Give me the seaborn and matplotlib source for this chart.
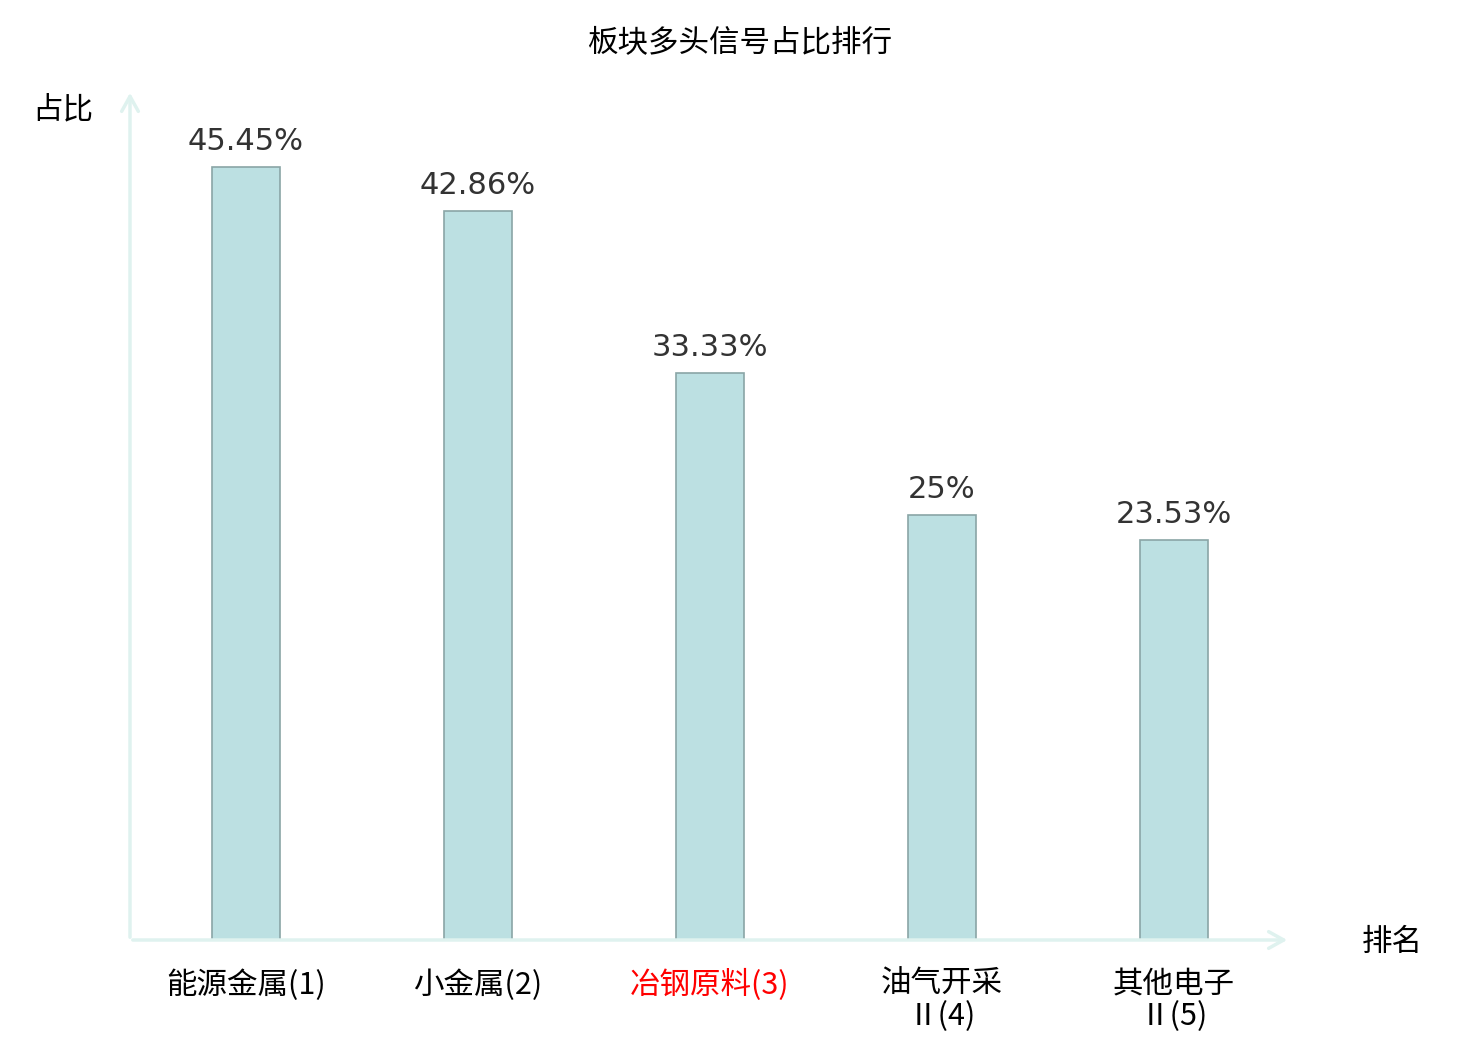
import pandas as pd
import matplotlib.pyplot as plt
import seaborn as sns

# data
categories = ['能源金属(1)', '小金属(2)', '冶钢原料(3)', '油气开采\nⅡ(4)', '其他电子\nⅡ(5)']
values = [45.45, 42.86, 33.33, 25, 23.53]
highlight = 2  # index of the red label

df = pd.DataFrame({'板块': categories, '占比': values})

sns.set_theme(style="white")
plt.rcParams['font.family'] = ['Noto Sans CJK SC', 'DejaVu Sans']
plt.rcParams['text.color'] = 'black'

fig = plt.figure(figsize=(14.8, 10.4), dpi=100)
ax = fig.add_axes([130 / 1480, 100 / 1040, 1160 / 1480, 850 / 1040])

sns.barplot(data=df, x='板块', y='占比', color='#bce0e2', saturation=1,
            edgecolor='#8aa5a6', linewidth=1.2, width=0.293, ax=ax)

ax.set_xlim(-0.5, 4.5)
ax.set_ylim(0, 50)
ax.set_yticks([])
ax.set_xlabel('')
ax.set_ylabel('')
for s in ax.spines.values():
    s.set_visible(False)

# value labels
ax.bar_label(ax.containers[0], labels=[f'{v:g}%' for v in values], padding=8,
             fontsize=22, color='#333333', family=['DejaVu Sans', 'Noto Sans CJK SC'])

# x tick labels
ax.set_xticks(range(len(categories)))
ax.set_xticklabels(categories, fontsize=22, linespacing=1.05)
ax.tick_params(axis='x', length=0, pad=21)
for i, t in enumerate(ax.get_xticklabels()):
    t.set_color('red' if i == highlight else 'black')

# axis arrows
arrow_kw = dict(arrowstyle='->,head_length=0.9,head_width=0.5', color='#dff2ef', lw=2.5)
ax.annotate('', xy=(1.0, 0), xytext=(0, 0), xycoords='axes fraction',
            arrowprops=arrow_kw, annotation_clip=False)
ax.annotate('', xy=(0, 1.0), xytext=(0, 0), xycoords='axes fraction',
            arrowprops=arrow_kw, annotation_clip=False)

fig.text(63 / 1480, 1 - 110 / 1040, '占比', fontsize=22, ha='center', va='center')
fig.text(1392 / 1480, 1 - 942 / 1040, '排名', fontsize=22, ha='center', va='center')
fig.text(0.5, 1 - 44 / 1040, '板块多头信号占比排行', fontsize=22, ha='center', va='center')

fig.savefig('out.png', dpi=100)
